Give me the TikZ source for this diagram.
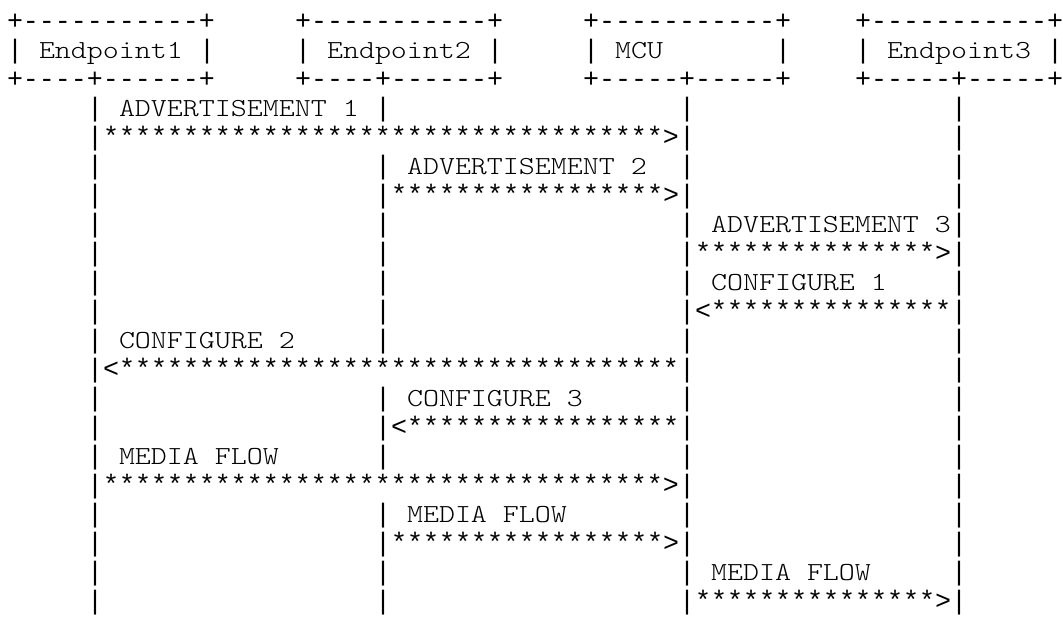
\documentclass[tikz,border=0pt]{standalone}
\usepackage{fontspec}
\newfontfamily\asciifont{lmmonolt10-regular.otf}[FakeStretch=1.172]
\newfontfamily\symfont{Liberation Mono}
\usetikzlibrary{positioning}

\tikzset{
  txt/.style={font=\asciifont\fontsize{13pt}{14.5pt}\selectfont, inner sep=0pt, outer sep=0pt, anchor=base west, text=black},
  msg/.style={txt},
  sym/.style={txt, font=\symfont\fontsize{13.333pt}{14.5pt}\selectfont},
  bar/.style={sym}
}
\newcommand{\msgstars}[1]{\foreach \i in {1,...,#1}{*}}

\begin{document}
\begin{tikzpicture}[x=8pt, y=-14.5pt]
  \useasboundingbox (-0.4375,-1) rectangle (66,20.276);

  % participants
  \foreach \c/\n/\lbl/\bot in {0/ep1/Endpoint1/{+----+------+},
                               18/ep2/Endpoint2/{+----+------+},
                               36/mcu/MCU/{+-----+-----+},
                               53/ep3/Endpoint3/{+-----+-----+}}{
    \node[sym] (\n top) at (\c,0) {+-----------+};
    \node[bar] (\n l) at (\c,1) {|};
    \node[txt] (\n) at (\c+2,1) {\lbl};
    \node[bar] (\n r) at (\c+12,1) {|};
    \node[sym] (\n bot) at (\c,2) {\bot};
  }

  % lifelines
  \foreach \r in {3,...,20}{
    \node[bar] (la\r) at (5,\r) {|};
    \node[bar] (lc\r) at (42,\r) {|};
    \node[bar] (ld\r) at (59,\r) {|};
  }
  \foreach \r in {3,5,6,7,8,9,10,11,13,14,15,17,18,19,20}
    \node[bar] (lb\r) at (23,\r) {|};

  % advertisements
  \node[msg] (adv1) at (7,3) {ADVERTISEMENT 1};
  \node[sym] (adv1a) at (6,4) {\msgstars{35}>};
  \node[msg] (adv2) at (25,5) {ADVERTISEMENT 2};
  \node[sym] (adv2a) at (24,6) {\msgstars{17}>};
  \node[msg] (adv3) at (44,7) {ADVERTISEMENT 3};
  \node[sym] (adv3a) at (43,8) {\msgstars{15}>};

  % configures
  \node[msg] (conf1) at (44,9) {CONFIGURE 1};
  \node[sym] (conf1a) at (43,10) {<\msgstars{15}};
  \node[msg] (conf2) at (7,11) {CONFIGURE 2};
  \node[sym] (conf2a) at (6,12) {<\msgstars{35}};
  \node[msg] (conf3) at (25,13) {CONFIGURE 3};
  \node[sym] (conf3a) at (24,14) {<\msgstars{17}};

  % media
  \node[msg] (media1) at (7,15) {MEDIA FLOW};
  \node[sym] (media1a) at (6,16) {\msgstars{35}>};
  \node[msg] (media2) at (25,17) {MEDIA FLOW};
  \node[sym] (media2a) at (24,18) {\msgstars{17}>};
  \node[msg] (media3) at (44,19) {MEDIA FLOW};
  \node[sym] (media3a) at (43,20) {\msgstars{15}>};
\end{tikzpicture}
\end{document}
